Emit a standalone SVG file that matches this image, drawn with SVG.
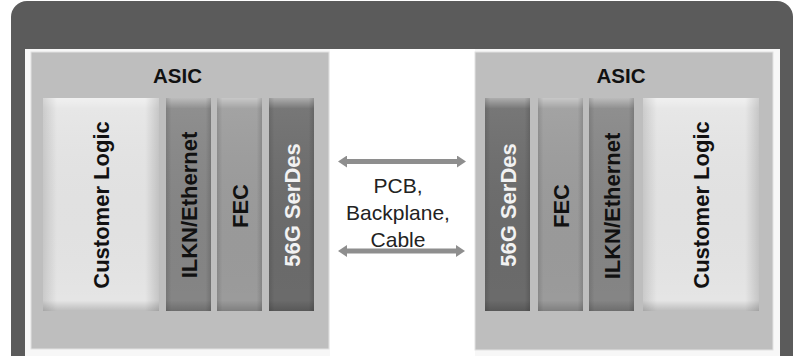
<svg xmlns="http://www.w3.org/2000/svg" width="801" height="356" viewBox="0 0 801 356">
  <defs>
    <linearGradient id="bevV" x1="0" y1="0" x2="0" y2="1">
      <stop offset="0" stop-color="#ffffff" stop-opacity="0.45"/>
      <stop offset="0.05" stop-color="#ffffff" stop-opacity="0.08"/>
      <stop offset="0.95" stop-color="#000000" stop-opacity="0"/>
      <stop offset="1" stop-color="#000000" stop-opacity="0.18"/>
    </linearGradient>
    <linearGradient id="bevH" x1="0" y1="0" x2="1" y2="0">
      <stop offset="0" stop-color="#000000" stop-opacity="0.12"/>
      <stop offset="0.12" stop-color="#000000" stop-opacity="0"/>
      <stop offset="0.88" stop-color="#000000" stop-opacity="0"/>
      <stop offset="1" stop-color="#000000" stop-opacity="0.14"/>
    </linearGradient>
    <marker id="head" viewBox="0 0 9 12" refX="0" refY="6" markerWidth="9" markerHeight="12" markerUnits="userSpaceOnUse" orient="auto-start-reverse">
      <path d="M0,0 L9,6 L0,12 Z" fill="#8e8e8e"/>
    </marker>
    <style>
      .panel { fill: #bebebe; stroke: #e2e2e2; stroke-width: 1; }
      .cust { fill: #e5e5e5; }
      .ilkn { fill: #858585; }
      .fec { fill: #9b9b9b; }
      .serdes { fill: #6b6b6b; }
      .ov1 { fill: url(#bevV); }
      .ov2 { fill: url(#bevH); }
      .lbl { font-family: "Liberation Sans", Arial, sans-serif; font-weight: bold; font-size: 22px; fill: #111111; text-anchor: middle; }
      .lblw { fill: #f2f2f2; }
      .title { font-family: "Liberation Sans", Arial, sans-serif; font-weight: bold; font-size: 20.5px; fill: #111111; text-anchor: middle; }
      .mid { font-family: "Liberation Sans", Arial, sans-serif; font-size: 21px; fill: #222222; text-anchor: middle; }
      .conn { stroke: #8e8e8e; stroke-width: 5; fill: none; marker-start: url(#head); marker-end: url(#head); }
    </style>
  </defs>

  <rect x="0" y="0" width="801" height="356" fill="#ffffff"/>
  <!-- outer frame -->
  <rect x="11" y="1" width="782" height="400" rx="16" ry="16" fill="#5b5b5b"/>
  <rect x="25" y="49" width="755" height="320" fill="#f7f7f7"/>
  <rect x="330" y="49" width="145" height="320" fill="#ffffff"/>

  <!-- left ASIC -->
  <g id="asic-left">
    <rect class="panel" x="31" y="52" width="298" height="297"/>
    <text class="title" x="177.5" y="83">ASIC</text>
  </g>
  <g id="left-customer-logic">
    <rect class="cust" x="43" y="98" width="116" height="213"/>
    <rect class="ov1" x="43" y="98" width="116" height="213"/>
    <rect class="ov2" x="43" y="98" width="116" height="213"/>
    <text class="lbl" transform="translate(109,205) rotate(-90)">Customer Logic</text>
  </g>
  <g id="left-ilkn">
    <rect class="ilkn" x="166" y="98" width="45" height="213"/>
    <rect class="ov1" x="166" y="98" width="45" height="213"/>
    <rect class="ov2" x="166" y="98" width="45" height="213"/>
    <text class="lbl" transform="translate(196.5,205) rotate(-90)">ILKN/Ethernet</text>
  </g>
  <g id="left-fec">
    <rect class="fec" x="217" y="98" width="45" height="213"/>
    <rect class="ov1" x="217" y="98" width="45" height="213"/>
    <rect class="ov2" x="217" y="98" width="45" height="213"/>
    <text class="lbl" transform="translate(247.5,206) rotate(-90)">FEC</text>
  </g>
  <g id="left-serdes">
    <rect class="serdes" x="269" y="98" width="45" height="213"/>
    <rect class="ov1" x="269" y="98" width="45" height="213"/>
    <rect class="ov2" x="269" y="98" width="45" height="213"/>
    <text class="lbl lblw" transform="translate(299.5,205) rotate(-90)">56G SerDes</text>
  </g>

  <!-- right ASIC -->
  <g id="asic-right">
    <rect class="panel" x="475" y="52" width="298" height="298"/>
    <text class="title" x="621" y="83">ASIC</text>
  </g>
  <g id="right-serdes">
    <rect class="serdes" x="485" y="98" width="45" height="213"/>
    <rect class="ov1" x="485" y="98" width="45" height="213"/>
    <rect class="ov2" x="485" y="98" width="45" height="213"/>
    <text class="lbl lblw" transform="translate(515.5,205) rotate(-90)">56G SerDes</text>
  </g>
  <g id="right-fec">
    <rect class="fec" x="538" y="98" width="45" height="213"/>
    <rect class="ov1" x="538" y="98" width="45" height="213"/>
    <rect class="ov2" x="538" y="98" width="45" height="213"/>
    <text class="lbl" transform="translate(568.5,206) rotate(-90)">FEC</text>
  </g>
  <g id="right-ilkn">
    <rect class="ilkn" x="589" y="98" width="45" height="213"/>
    <rect class="ov1" x="589" y="98" width="45" height="213"/>
    <rect class="ov2" x="589" y="98" width="45" height="213"/>
    <text class="lbl" transform="translate(619.5,206) rotate(-90)">ILKN/Ethernet</text>
  </g>
  <g id="right-customer-logic">
    <rect class="cust" x="643" y="98" width="116" height="213"/>
    <rect class="ov1" x="643" y="98" width="116" height="213"/>
    <rect class="ov2" x="643" y="98" width="116" height="213"/>
    <text class="lbl" transform="translate(709,205) rotate(-90)">Customer Logic</text>
  </g>

  <!-- connectors -->
  <g id="connectors">
    <line class="conn" x1="347" y1="161.5" x2="457" y2="161.5"/>
    <line class="conn" x1="347" y1="251" x2="456" y2="251"/>
  </g>
  <g id="link-label">
    <text class="mid" x="398" y="192.5">PCB,</text>
    <text class="mid" x="398" y="220">Backplane,</text>
    <text class="mid" x="398" y="247">Cable</text>
  </g>
</svg>
